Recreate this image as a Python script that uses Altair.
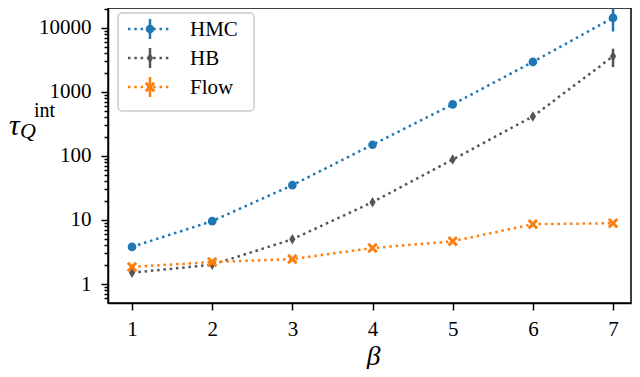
import altair as alt
import pandas as pd

# ---- data ----
beta = [1, 2, 3, 4, 5, 6, 7]
methods = ["HMC", "HB", "Flow"]
hmc = [3.8, 9.6, 35, 150, 640, 2950, 14400]
hmc_err = [0.1, 0.3, 1.5, 8, 40, 250, 5600]
hb = [1.5, 2.0, 5.0, 19, 88, 415, 3600]
hb_err = [0.05, 0.1, 0.3, 1.5, 7, 45, 1150]
flow = [1.85, 2.2, 2.45, 3.65, 4.65, 8.6, 8.9]
flow_err = [0.05, 0.05, 0.07, 0.1, 0.15, 0.3, 0.3]
x_ticks = [1, 2, 3, 4, 5, 6, 7]
y_major = [1, 10, 100, 1000, 10000]

colors = {"HMC": "#1f77b4", "HB": "#555555", "Flow": "#ff7f0e"}
DIAMOND = "M0,-1L0.6,0L0,1L-0.6,0Z"
XSHAPE = ("M-1,-0.6L-0.6,-1L0,-0.4L0.6,-1L1,-0.6L0.4,0L1,0.6L0.6,1L0,0.4"
          "L-0.6,1L-1,0.6L-0.4,0Z")
shapes = {"HMC": "circle", "HB": DIAMOND, "Flow": XSHAPE}
sizes = {"HMC": 75, "HB": 110, "Flow": 110}
series = {"HMC": (hmc, hmc_err), "HB": (hb, hb_err), "Flow": (flow, flow_err)}

FONT = "Liberation Serif"

y_minor = [m * 10 ** k for k in range(-1, 5) for m in range(1, 10)]
y_minor = [v for v in y_minor if 0.505 <= v <= 20500]
major_list = "[" + ",".join(str(v) for v in y_major) + "]"

xscale = alt.Scale(domain=[0.7, 7.224], nice=False, zero=False)
yscale = alt.Scale(type="log", domain=[0.505, 20500], nice=False)

xaxis = alt.Axis(values=x_ticks, format="d", title="β", titleFont=FONT,
                 titleFontStyle="italic", titleFontWeight="normal",
                 titleFontSize=28, titlePadding=3, titleColor="black",
                 titleAnchor="start", titleX=265, titleAlign="center",
                 labelFont=FONT, labelFontSize=21, labelColor="black",
                 labelPadding=8, tickSize=7, tickWidth=1.5, tickColor="black",
                 domainColor="black", domainWidth=1.5, grid=False,
                 labelFlush=False)
yaxis = alt.Axis(values=y_minor, title=None, labelFont=FONT, labelFontSize=21,
                 labelColor="black", labelPadding=10, labelOverlap=False,
                 labelExpr=f"indexof({major_list}, datum.value) >= 0 ? format(datum.value, 'd') : ''",
                 tickSize={"condition": {"test": f"indexof({major_list}, datum.value) >= 0", "value": 7}, "value": 4},
                 tickWidth=1.5, tickColor="black", domainColor="black",
                 domainWidth=1.5, grid=False, labelFlush=False)

layers = []
for name in methods:
    vals, errs = series[name]
    df = pd.DataFrame({
        "beta": beta, "val": vals,
        "lo": [v - e for v, e in zip(vals, errs)],
        "hi": [v + e for v, e in zip(vals, errs)],
    })
    c = colors[name]
    base = alt.Chart(df)
    X = alt.X("beta:Q", scale=xscale, axis=xaxis)
    line = base.mark_line(color=c, strokeWidth=2.5, strokeDash=[2.5, 3.8]).encode(
        x=X, y=alt.Y("val:Q", scale=yscale, axis=yaxis))
    err = base.mark_rule(color=c, strokeWidth=2.5).encode(
        x=X, y=alt.Y("lo:Q", scale=yscale, axis=yaxis), y2="hi:Q")
    pts = base.mark_point(shape=shapes[name], filled=True, size=sizes[name],
                          color=c, opacity=1).encode(
        x=X, y=alt.Y("val:Q", scale=yscale, axis=yaxis))
    layers += [line, err, pts]

# ---- manual legend ----
legend_layers = [
    alt.Chart(pd.DataFrame({"a": [0]})).mark_rect(
        fill="white", fillOpacity=0.8, stroke="#cccccc", strokeWidth=1.5,
        cornerRadius=4).encode(
        x=alt.value(10), x2=alt.value(146), y=alt.value(5), y2=alt.value(103))
]
for i, name in enumerate(methods):
    c = colors[name]
    yy = 21 + 29 * i
    one = pd.DataFrame({"a": [i]})
    legend_layers += [
        alt.Chart(one).mark_rule(color=c, strokeWidth=2.5, strokeDash=[2.5, 3.8]).encode(
            x=alt.value(20), x2=alt.value(64), y=alt.value(yy)),
        alt.Chart(one).mark_rule(color=c, strokeWidth=2.5).encode(
            x=alt.value(42), y=alt.value(yy - 10), y2=alt.value(yy + 10)),
        alt.Chart(one).mark_point(shape=shapes[name], filled=True, size=sizes[name],
                                  color=c, opacity=1).encode(
            x=alt.value(42), y=alt.value(yy)),
        alt.Chart(pd.DataFrame({"label": [name]})).mark_text(
            font=FONT, fontSize=21, color="black", align="left",
            baseline="middle").encode(
            text="label:N", x=alt.value(82), y=alt.value(yy + 1)),
    ]

# ---- y-axis title  tau_Q^int ----
title_parts = ["τ", "Q", "int"]
tdf = lambda s: pd.DataFrame({"label": [s]})
title_layers = [
    alt.Chart(tdf(title_parts[0])).mark_text(
        font=FONT, fontSize=30, fontStyle="italic", color="black",
        align="left", baseline="alphabetic").encode(
        text="label:N", x=alt.value(-99), y=alt.value(127)),
    alt.Chart(tdf(title_parts[1])).mark_text(
        font=FONT, fontSize=22, fontStyle="italic", color="black",
        align="left", baseline="alphabetic").encode(
        text="label:N", x=alt.value(-88), y=alt.value(130)),
    alt.Chart(tdf(title_parts[2])).mark_text(
        font=FONT, fontSize=20, color="black",
        align="left", baseline="alphabetic").encode(
        text="label:N", x=alt.value(-74), y=alt.value(109)),
]

chart = alt.layer(*layers, *legend_layers, *title_layers).properties(
    width=523, height=295,
    background="white",
    autosize=alt.AutoSizeParams(type="none"),
    padding={"left": 100, "top": 0, "right": 1, "bottom": 66},
).configure(font=FONT).configure_view(stroke="black", strokeWidth=1.5)

chart.save("out.html", embed_options={"renderer": "svg", "actions": False})
